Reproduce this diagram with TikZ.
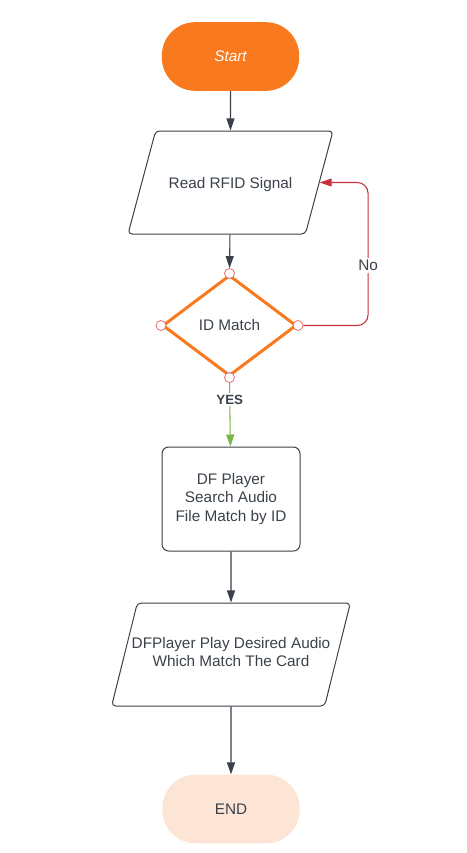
\documentclass[tikz,border=0pt]{standalone}
\usepackage{fontspec}
\setmainfont{Liberation Sans}
\usetikzlibrary{shapes}
\usetikzlibrary{positioning}
\usetikzlibrary{arrows.meta}
\definecolor{lucidorange}{HTML}{F9791E}
\definecolor{lucidpeach}{HTML}{FDE5D5}
\definecolor{luciddark}{HTML}{3A414A}
\definecolor{lucidred}{HTML}{C7303D}
\definecolor{lucidgreen}{HTML}{7AB648}
\definecolor{handlered}{HTML}{E2706E}
\tikzset{
    txt/.style = {text=luciddark, align=center, font=\fontsize{11.5}{13.75}\selectfont},
    term/.style = {rectangle, rounded corners=25pt, minimum width=103pt, minimum height=51.5pt, txt},
    io/.style = {trapezium, trapezium stretches body, draw=luciddark, line width=0.75pt, rounded corners=3pt, inner ysep=0pt, txt},
    proc/.style = {rectangle, draw=luciddark, line width=0.75pt, rounded corners=5pt, minimum width=103.5pt, minimum height=78pt, txt},
    decide/.style = {diamond, draw=lucidorange, line width=2.25pt, minimum width=100.5pt, minimum height=75.75pt, inner sep=0pt, txt},
    handle/.style = {circle, draw=handlered, fill=white, line width=0.6pt, minimum size=7.5pt, inner sep=0pt},
    lbl/.style = {fill=white, text=luciddark, inner sep=1.5pt},
    edgen/.style = {-{Triangle[length=9pt,width=6pt]}, line width=0.8pt, luciddark},
    edger/.style = {-{Triangle[length=9pt,width=6pt]}, line width=0.8pt, lucidred, rounded corners=8pt},
    edgeg/.style = {-{Triangle[length=9pt,width=6pt]}, line width=0.8pt, lucidgreen}
}
\begin{document}
\begin{tikzpicture}[x=0.75pt, y=-0.75pt]
\useasboundingbox (0,0) rectangle (467,853);
%
\node[term, fill=lucidorange, text=white, font=\fontsize{11.5}{13.75}\selectfont\itshape] at (230.5, 56.5) (start) {Start};
\node[io, trapezium left angle=75, trapezium right angle=105, minimum width=153.75pt, text height=42.75pt, text depth=34.5pt] at (230.5, 182.5) (read) {Read RFID Signal};
\node[decide] at (229.5, 325.5) (match) {ID Match};
\node[handle] at (match.north) (hn) {};
\node[handle] at (match.south) (hs) {};
\node[handle] at (match.east) (he) {};
\node[handle] at (match.west) (hw) {};
\node[proc] at (231, 499) (search) {DF Player\\Search Audio\\File Match by ID};
\node[io, trapezium left angle=76, trapezium right angle=104, minimum width=178.5pt, inner xsep=-4.2pt, text height=47.75pt, text depth=29.5pt] at (231, 654.5) (play) {DFPlayer Play Desired Audio\\Which Match The Card};
\node[term, fill=lucidpeach] at (231, 809) (end) {END};
\coordinate[right=36.25pt of read.east] (nobend);
%
\draw[edgen] (start) -- (read);
\draw[edgen] (read) -- (hn);
\draw[edger] (he) -| node[lbl, pos=0.71, txt] {No} (nobend) -- (read.east);
\draw[edgeg] (hs) -- node[lbl, pos=0.26, font=\fontsize{10}{12}\selectfont\bfseries] {YES} (search);
\draw[edgen] (search) -- (play);
\draw[edgen] (play) -- (end);

\end{tikzpicture}
\end{document}
